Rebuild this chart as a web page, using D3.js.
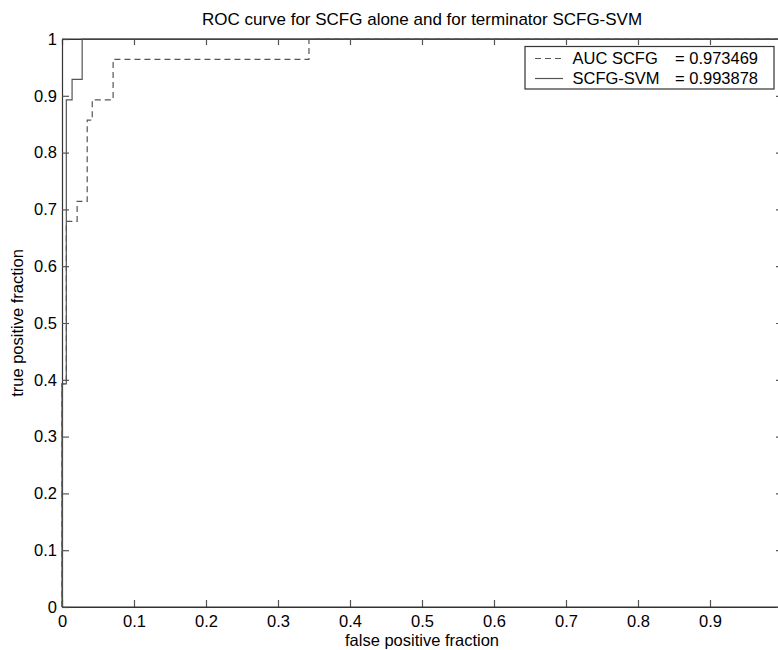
<!DOCTYPE html>
<html><head><meta charset="utf-8">
<script src="https://cdn.jsdelivr.net/npm/d3@7"></script>
<style>
body{margin:0;background:#fff;}
text{font-family:"Liberation Sans",Arial,sans-serif;}
</style></head>
<body>
<svg id="c" width="778" height="650"></svg>
<script>
// ---- data ----
const title = "ROC curve for SCFG alone and for terminator SCFG-SVM";
const xLabel = "false positive fraction";
const yLabel = "true positive fraction";
const xTickValues = [0,0.1,0.2,0.3,0.4,0.5,0.6,0.7,0.8,0.9];
const yTickValues = [0,0.1,0.2,0.3,0.4,0.5,0.6,0.7,0.8,0.9,1];
const scfgFpr = [0, 0, 0.006, 0.021, 0.035, 0.042, 0.071, 0.343, 1];
const scfgTpr = [0, 0.393, 0.679, 0.714, 0.857, 0.893, 0.964, 1, 1];
const svmFpr = [0, 0, 0.006, 0.014, 0.028, 1];
const svmTpr = [0, 0.393, 0.893, 0.929, 1, 1];
const legendNames = ["AUC SCFG", "SCFG-SVM"];
const legendValues = ["= 0.973469", "= 0.993878"];

// ---- chart ----
const svg = d3.select("#c");
const L = 62, R = 782, T = 39, B = 607;
const x = d3.scaleLinear().domain([0,1]).range([L,R]);
const y = d3.scaleLinear().domain([0,1]).range([B,T]);
const fmt = d => d === 0 ? "0" : d === 1 ? "1" : d3.format(".1f")(d);
const axisColor = "#333";
const fontSize = 16.5;

function styleAxis(g){
  g.selectAll("path.domain").attr("stroke", axisColor).attr("stroke-width",1.2);
  g.selectAll(".tick line").attr("stroke", "#555").attr("stroke-width",1.2);
  g.selectAll(".tick text").attr("fill","#000").style("font-size", fontSize+"px")
   .style("font-family",'"Liberation Sans",Arial,sans-serif');
}

svg.append("g").attr("transform",`translate(0,${B})`)
  .call(d3.axisBottom(x).tickValues(xTickValues).tickFormat(fmt).tickSizeInner(-7).tickSizeOuter(0).tickPadding(8))
  .call(styleAxis);
svg.append("g").attr("transform",`translate(0,${T})`)
  .call(d3.axisTop(x).tickValues(xTickValues).tickFormat("").tickSizeInner(-6).tickSizeOuter(0))
  .call(styleAxis);
svg.append("g").attr("transform",`translate(${L},0)`)
  .call(d3.axisLeft(y).tickValues(yTickValues).tickFormat(fmt).tickSizeInner(-7).tickSizeOuter(0).tickPadding(5))
  .call(styleAxis);
svg.append("g").attr("transform",`translate(${R},0)`)
  .call(d3.axisRight(y).tickValues(yTickValues).tickFormat("").tickSizeInner(-6).tickSizeOuter(0))
  .call(styleAxis);
// complete the frame lines across the full width
svg.append("line").attr("x1",L).attr("x2",R).attr("y1",T).attr("y2",T).attr("stroke",axisColor).attr("stroke-width",1.2);
svg.append("line").attr("x1",L).attr("x2",R).attr("y1",B).attr("y2",B).attr("stroke",axisColor).attr("stroke-width",1.2);

const line = d3.line().x(d=>x(d[0])).y(d=>y(d[1])).curve(d3.curveStepAfter);
const scfgPts = scfgFpr.map((f,i)=>[f, scfgTpr[i]]);
const svmPts = svmFpr.map((f,i)=>[f, svmTpr[i]]);

svg.append("path").datum(scfgPts).attr("d", line)
  .attr("fill","none").attr("stroke","#555").attr("stroke-width",1.2).attr("stroke-dasharray","6,4");
svg.append("path").datum(svmPts).attr("d", line)
  .attr("fill","none").attr("stroke","#555").attr("stroke-width",1.2);

// title & labels
svg.append("text").attr("x", (L+R)/2).attr("y", 25).attr("text-anchor","middle")
  .style("font-size", "17px").text(title);
svg.append("text").attr("x", (L+R)/2).attr("y", 645.5).attr("text-anchor","middle")
  .style("font-size", fontSize+"px").text(xLabel);
svg.append("text").attr("transform",`translate(23,${(T+B)/2}) rotate(-90)`).attr("text-anchor","middle")
  .style("font-size", fontSize+"px").text(yLabel);

// legend
const lg = svg.append("g");
lg.append("rect").attr("x",525).attr("y",46.5).attr("width",249).attr("height",42.5)
  .attr("fill","#fff").attr("stroke",axisColor).attr("stroke-width",1.2);
const rowY = [58.5, 78.5];
const dashes = ["6,4", null];
legendNames.forEach((n,i)=>{
  lg.append("line").attr("x1",535).attr("x2",563).attr("y1",rowY[i]).attr("y2",rowY[i])
    .attr("stroke","#555").attr("stroke-width",1.2).attr("stroke-dasharray",dashes[i]);
  lg.append("text").attr("x",572.5).attr("y",rowY[i]+5).style("font-size",fontSize+"px").text(n);
  lg.append("text").attr("x",675).attr("y",rowY[i]+5).style("font-size",fontSize+"px").text(legendValues[i]);
});
</script>
</body></html>
